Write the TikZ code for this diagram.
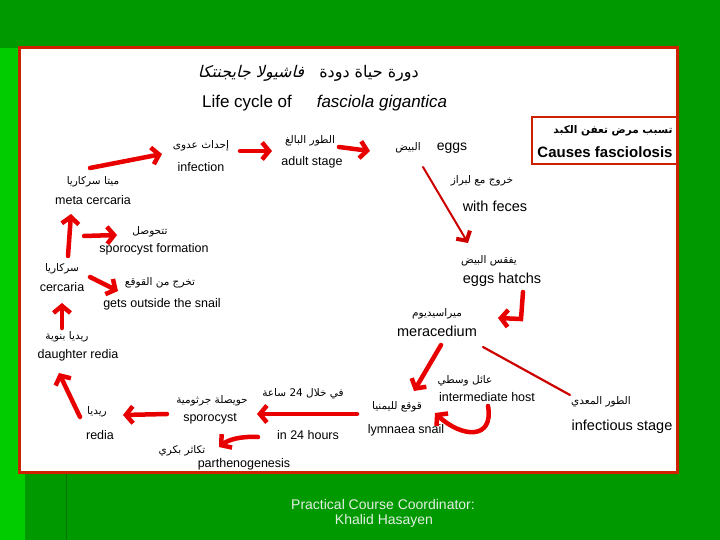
\documentclass[tikz,border=0pt]{standalone}
\usepackage{fontspec}
\setmainfont{Liberation Sans}
\newfontfamily\arf[Script=Arabic]{DejaVu Sans}
\newfontfamily\arsl[Script=Arabic,FakeSlant=0.25]{DejaVu Sans}
\newfontfamily\arbf[Script=Arabic]{DejaVu Sans Bold}
\TeXXeTstate=1
\usetikzlibrary{arrows.meta}
\definecolor{bggreen}{RGB}{0,153,0}
\definecolor{litgreen}{RGB}{0,204,0}
\definecolor{boxred}{RGB}{204,34,0}
\definecolor{arrred}{RGB}{232,0,0}
\definecolor{thinred}{RGB}{205,0,0}
\definecolor{foot}{RGB}{228,238,228}
\begin{document}
\begin{tikzpicture}[x=1pt,y=-1pt,
  en/.style={inner sep=0pt,font=\fontsize{12.5}{14}\selectfont},
  enbig/.style={inner sep=0pt,font=\fontsize{14.5}{16}\selectfont},
  arl/.style={inner sep=0pt,font=\arf\fontsize{10.5}{12}\selectfont},
  redarrow/.style={draw=arrred,line width=4.5pt,line cap=round,-{Straight Barb[length=7pt,width=17pt]}},
  thinarrow/.style={draw=thinred,line width=2pt,line cap=round,-{Straight Barb[length=7pt,width=16pt,line width=4pt]}},
  thinline/.style={draw=thinred,line width=2.2pt,line cap=round}]
\useasboundingbox (0,0) rectangle (720,540);
% background
\fill[bggreen] (0,0) rectangle (720,540);
\fill[litgreen] (0,48) rectangle (25,540);
\draw[green!45!black,line width=1pt] (66,472) -- (66,540);
\filldraw[fill=white,draw=boxred,line width=3pt] (19,48) rectangle (677,472);
\filldraw[fill=white,draw=boxred,line width=2pt] (532,117) rectangle (677,164);
% title
\node[inner sep=0pt,font=\arsl\fontsize{16}{18}\selectfont] (tAr2) at (251,73) {\beginR فاشيولا جايجنتكا\endR};
\node[inner sep=0pt,font=\arf\fontsize{16}{18}\selectfont] (tAr1) at (369,73) {\beginR دورة حياة دودة\endR};
\node[inner sep=0pt,font=\fontsize{17}{20}\selectfont] (tEn1) at (247,103) {Life cycle of};
\node[inner sep=0pt,font=\itshape\fontsize{17}{20}\selectfont] (tEn2) at (382,103) {fasciola gigantica};
% causes box
\node[inner sep=0pt,font=\arbf\fontsize{10.5}{12}\selectfont] (causA) at (613,131) {\beginR تسبب مرض تعفن الكبد\endR};
\node[inner sep=0pt,font=\bfseries\fontsize{15}{17}\selectfont] (causE) at (605,152) {Causes fasciolosis};
% labels
\node[arl] (infA) at (201,146) {\beginR إحداث عدوى\endR};
\node[en] (infE) at (201,167) {infection};
\node[arl] (aduA) at (310,141) {\beginR الطور البالغ\endR};
\node[en] (aduE) at (312,162) {adult stage};
\node[arl] (eggA) at (408,148) {\beginR البيض\endR};
\node[en,font=\fontsize{14}{16}\selectfont] (eggE) at (452,148) {eggs};
\node[arl] (fecA) at (482,181) {\beginR خروج مع لبراز\endR};
\node[enbig] (fecE) at (495,206) {with feces};
\node[arl] (metA) at (93,182) {\beginR ميتا سركاريا\endR};
\node[en] (metE) at (93,200) {meta cercaria};
\node[arl] (spfA) at (150,232) {\beginR تتحوصل\endR};
\node[en] (spfE) at (154,249) {sporocyst formation};
\node[arl] (cerA) at (62,269) {\beginR سركاريا\endR};
\node[en] (cerE) at (62,287) {cercaria};
\node[arl] (outA) at (160,283) {\beginR تخرج من القوقع\endR};
\node[en] (outE) at (162,304) {gets outside the snail};
\node[arl] (hatA) at (489,261) {\beginR يفقس البيض\endR};
\node[enbig] (hatE) at (502,280) {eggs hatchs};
\node[arl] (merA) at (437,314) {\beginR ميراسيديوم\endR};
\node[enbig] (merE) at (437,331) {meracedium};
\node[arl] (dauA) at (67,337) {\beginR ريديا بنوية\endR};
\node[en] (dauE) at (78,355) {daughter redia};
\node[arl] (redA) at (97,412) {\beginR ريديا\endR};
\node[en] (redE) at (100,435) {redia};
\node[arl] (spoA) at (212,401) {\beginR حويصلة جرثومية\endR};
\node[en] (spoE) at (210,419) {sporocyst};
\node[arl] (hrsA) at (303,394) {\beginR في خلال \beginL 24\endL{} ساعة\endR};
\node[en] (hrsE) at (308,435) {in 24 hours};
\node[arl] (parA) at (182,451) {\beginR تكاثر بكري\endR};
\node[en] (parE) at (244,464) {parthenogenesis};
\node[arl] (intA) at (465,381) {\beginR عائل وسطي\endR};
\node[en] (intE) at (487,397) {intermediate host};
\node[arl] (lymA) at (397,407) {\beginR قوقع لليمنيا\endR};
\node[en] (lymE) at (406,430) {lymnaea snail};
\node[arl] (insA) at (601,402) {\beginR الطور المعدي\endR};
\node[enbig] (insE) at (622,427) {infectious stage};
% footer
\node[inner sep=0pt,text=foot,font=\fontsize{14}{16}\selectfont] (foot1) at (383,504) {Practical Course Coordinator:};
\node[inner sep=0pt,text=foot,font=\fontsize{14}{16}\selectfont] (foot2) at (384,521) {Khalid Hasayen};
% arrow end points
\coordinate (a1s) at (90,168);  \coordinate (a1e) at (162,154);
\coordinate (a2s) at (240,151); \coordinate (a2e) at (272,151);
\coordinate (a3s) at (339,147); \coordinate (a3e) at (370,151);
\coordinate (a4s) at (423,167); \coordinate (a4e) at (468,243);
\coordinate (a5s) at (523,292); \coordinate (a5m) at (521,319); \coordinate (a5e) at (498,318);
\coordinate (a6s) at (441,345); \coordinate (a6e) at (414,391);
\coordinate (a7s) at (483,347); \coordinate (a7e) at (570,395);
\coordinate (a9s) at (488,406); \coordinate (a9e) at (435,413);
\coordinate (a10s) at (357,414); \coordinate (a10e) at (257,414);
\coordinate (a11s) at (167,414); \coordinate (a11e) at (123,415);
\coordinate (a12s) at (80,417); \coordinate (a12e) at (59,373);
\coordinate (a13s) at (62,328); \coordinate (a13e) at (62,303);
\coordinate (a14s) at (68,256); \coordinate (a14e) at (71,214);
\coordinate (a15s) at (84,236); \coordinate (a15e) at (117,235);
\coordinate (a16s) at (90,277); \coordinate (a16e) at (118,291);
\coordinate (a17s) at (258,437); \coordinate (a17e) at (219,447);
% arrows
\draw[redarrow] (a1s) -- (a1e);
\draw[redarrow] (a2s) -- (a2e);
\draw[redarrow] (a3s) -- (a3e);
\draw[thinarrow] (a4s) -- (a4e);
\draw[redarrow] (a5s) -- (a5m) -- (a5e);
\draw[redarrow] (a6s) -- (a6e);
\draw[thinline] (a7s) -- (a7e);
\draw[redarrow] (a9s) .. controls (494,440) and (462,438) .. (a9e);
\draw[redarrow] (a10s) -- (a10e);
\draw[redarrow] (a11s) -- (a11e);
\draw[redarrow] (a12s) -- (a12e);
\draw[redarrow] (a13s) -- (a13e);
\draw[redarrow] (a14s) -- (a14e);
\draw[redarrow] (a15s) -- (a15e);
\draw[redarrow] (a16s) -- (a16e);
\draw[redarrow] (a17s) .. controls (240,436) and (228,440) .. (a17e);
\end{tikzpicture}
\end{document}
